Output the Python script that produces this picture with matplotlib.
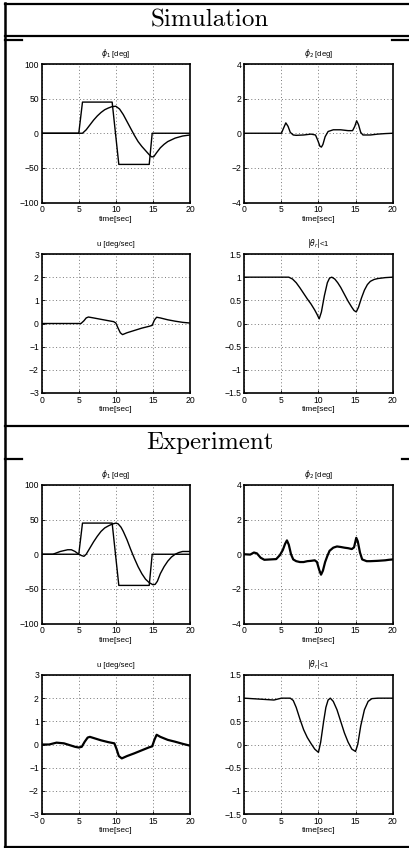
import matplotlib
matplotlib.use("Agg")
import matplotlib.pyplot as plt
from matplotlib.lines import Line2D

# reference step signal for phi_1 (same in both experiments)
ref_t = [0, 5.0, 5.5, 9.5, 10.4, 14.5, 14.9, 20]
ref_phi1 = [0, 0, 45, 45, -45, -45, 0, 0]

# Simulation
sim_phi1_t = [0, 5.5, 6.0, 6.5, 7.0, 7.5, 8.0, 8.5, 9.0, 9.5, 10.0, 10.5, 11.0, 11.5, 12.0,
              12.5, 13.0, 13.5, 14.0, 14.5, 14.8, 15.1, 15.5, 16.0, 16.5, 17.0, 18.0, 19.0, 20.0]
sim_phi1 = [0, 0, 5, 12, 19, 25, 30, 34, 36.5, 38.5, 39, 35, 27, 17, 7,
            -3, -12, -19, -25, -31, -34, -34, -28, -21, -16, -12, -7, -4, -2.5]

sim_phi2_t = [0, 5.0, 5.3, 5.6, 5.9, 6.2, 6.6, 7.0, 8.0, 9.0, 9.6, 9.9, 10.2, 10.4, 10.6,
              10.9, 11.3, 12.0, 13.0, 14.0, 14.6, 14.9, 15.15, 15.4, 15.7, 16.0, 17.0, 18.0, 19.0, 20.0]
sim_phi2 = [0, 0, 0.3, 0.6, 0.4, 0.05, -0.1, -0.12, -0.1, -0.05, -0.1, -0.4, -0.75, -0.8, -0.65,
            -0.2, 0.1, 0.2, 0.2, 0.15, 0.15, 0.4, 0.72, 0.5, 0.05, -0.1, -0.1, -0.05, -0.02, 0]

sim_u_t = [0, 5.3, 5.7, 6.0, 6.3, 7.0, 8.0, 9.0, 9.7, 10.0, 10.3, 10.6, 10.9, 11.5, 12.5,
           13.5, 14.5, 14.9, 15.2, 15.5, 16.0, 17.0, 18.0, 19.0, 20.0]
sim_u = [0, 0, 0.12, 0.24, 0.28, 0.24, 0.18, 0.12, 0.08, 0.02, -0.2, -0.4, -0.48, -0.4, -0.3,
         -0.2, -0.12, -0.08, 0.15, 0.27, 0.24, 0.16, 0.1, 0.05, 0.02]

sim_th_t = [0, 6.0, 6.5, 7.0, 7.5, 8.0, 8.5, 9.0, 9.5, 9.8, 10.1, 10.4, 10.8, 11.2, 11.5, 11.8,
            12.2, 12.6, 13.0, 13.5, 14.0, 14.5, 14.8, 15.1, 15.4, 15.8, 16.2, 16.6, 17.0, 17.5,
            18.0, 19.0, 20.0]
sim_th = [1, 1, 0.96, 0.88, 0.77, 0.65, 0.53, 0.42, 0.29, 0.2, 0.1, 0.25, 0.6, 0.88, 0.98, 1.0,
          0.96, 0.88, 0.78, 0.63, 0.48, 0.35, 0.28, 0.25, 0.35, 0.55, 0.72, 0.84, 0.91, 0.95,
          0.97, 0.99, 1.0]

# Experiment
exp_phi1_t = [0, 1.5, 2.5, 3.5, 4.0, 4.5, 5.0, 5.4, 5.7, 6.0, 6.5, 7.0, 7.5, 8.0, 8.5, 9.0, 9.5,
              10.0, 10.3, 10.7, 11.0, 11.5, 12.0, 12.5, 13.0, 13.5, 14.0, 14.5, 15.0, 15.3, 15.6,
              16.0, 16.5, 17.0, 17.5, 18.0, 18.5, 19.0, 20.0]
exp_phi1 = [0, 0, 4, 6.5, 6.5, 4, 0, -2, -3, 0, 9, 18, 26, 33, 38, 41, 43.5,
            45, 44, 39, 33, 21, 7, -6, -18, -28, -36, -41, -44, -43.5, -39,
            -28, -18, -10, -4, 0, 2.5, 4, 4]

exp_phi2_t = [0, 0.8, 1.3, 1.7, 2.2, 2.7, 3.5, 4.3, 4.8, 5.2, 5.5, 5.75, 6.0, 6.3, 6.6, 7.0,
              7.5, 8.0, 8.5, 9.0, 9.5, 9.8, 10.1, 10.35, 10.6, 10.9, 11.2, 11.5, 12.0, 12.5,
              13.0, 13.5, 14.0, 14.5, 14.8, 15.1, 15.3, 15.6, 15.9, 16.5, 17.0, 18.0, 19.0,
              19.5, 20.0]
exp_phi2 = [0, -0.02, 0.1, 0.05, -0.2, -0.32, -0.3, -0.28, -0.05, 0.25, 0.6, 0.8, 0.55, 0.0,
            -0.3, -0.4, -0.45, -0.45, -0.4, -0.38, -0.35, -0.45, -0.9, -1.18, -0.95, -0.45,
            -0.1, 0.2, 0.38, 0.45, 0.42, 0.38, 0.35, 0.3, 0.4, 0.95, 0.75, 0.1, -0.3, -0.4,
            -0.4, -0.38, -0.35, -0.32, -0.3]

exp_u_t = [0, 1.0, 2.0, 3.0, 4.0, 4.5, 5.0, 5.4, 5.8, 6.2, 6.5, 7.0, 8.0, 9.0, 9.8, 10.1, 10.4,
           10.8, 11.5, 12.5, 13.5, 14.5, 14.9, 15.2, 15.5, 16.0, 17.0, 18.0, 19.0, 20.0]
exp_u = [0, 0, 0.08, 0.05, -0.05, -0.1, -0.13, -0.1, 0.12, 0.3, 0.33, 0.28, 0.18, 0.1, 0.05,
         -0.2, -0.5, -0.6, -0.5, -0.38, -0.25, -0.12, -0.08, 0.2, 0.42, 0.33, 0.2, 0.12, 0.03,
         -0.05]

exp_th_t = [0, 2.0, 4.0, 5.0, 6.2, 6.6, 7.0, 7.5, 8.0, 8.5, 9.0, 9.5, 10.0, 10.3, 10.7, 11.0,
            11.3, 11.6, 12.0, 12.5, 13.0, 13.5, 14.0, 14.5, 15.0, 15.3, 15.7, 16.2, 16.7, 17.2,
            18.0, 20.0]
exp_th = [1, 0.98, 0.96, 1.0, 1.0, 0.95, 0.8, 0.55, 0.32, 0.15, 0.02, -0.1, -0.17, 0.05, 0.5,
          0.8, 0.96, 1.0, 0.93, 0.75, 0.5, 0.25, 0.05, -0.1, -0.15, 0.0, 0.4, 0.75, 0.93, 0.99,
          1.0, 1.0]

x_ticks = [0, 5, 10, 15, 20]
phi1_ticks = [-100, -50, 0, 50, 100]
phi2_ticks = [-4, -2, 0, 2, 4]
u_ticks = [-3, -2, -1, 0, 1, 2, 3]
th_ticks = [-1.5, -1, -0.5, 0, 0.5, 1, 1.5]
th_labels = ["\u22121.5", "\u22121", "\u22120.5", "0", "0.5", "1", "1.5"]

plt.rcParams['font.family'] = ['Liberation Sans', 'DejaVu Sans']
plt.rcParams['mathtext.fontset'] = 'dejavusans'

W, H = 410, 848
fig = plt.figure(figsize=(W / 100, H / 100), dpi=100)


def px_axes(left, top, width, height):
    return fig.add_axes([left / W, 1 - (top + height) / H, width / W, height / H])


def setup(ax, yticks, title, ylabels=None):
    ax.set_xlim(0, 20)
    ax.set_ylim(yticks[0], yticks[-1])
    ax.set_xticks(x_ticks)
    ax.set_yticks(yticks)
    if ylabels is not None:
        ax.set_yticklabels(ylabels)
    ax.grid(True, linestyle=(0, (1, 2.5)), color='#777777', linewidth=0.7)
    ax.tick_params(direction='in', length=2, labelsize=6.2, pad=2, width=0.6)
    for s in ax.spines.values():
        s.set_linewidth(1.2)
    ax.set_title(title, fontsize=5.5, pad=6)
    ax.set_xlabel("time[sec]", fontsize=6, labelpad=1)


def panel(top, data, lw):
    (p1t, p1), (p2t, p2), (ut, u), (tt, th) = data
    ax = px_axes(41.7, top, 148.3, 138.5)
    ax.plot(ref_t, ref_phi1, color='black', lw=1.0)
    ax.plot(p1t, p1, color='black', lw=1.0)
    setup(ax, phi1_ticks, r'$\phi_1$ [deg]')

    ax = px_axes(244.3, top, 148.3, 138.5)
    ax.plot(p2t, p2, color='black', lw=lw)
    setup(ax, phi2_ticks, r'$\phi_2$ [deg]')

    ax = px_axes(41.7, top + 190, 148.3, 139)
    ax.plot(ut, u, color='black', lw=lw)
    setup(ax, u_ticks, 'u [deg/sec]')

    ax = px_axes(244.3, top + 190, 148.3, 139)
    ax.plot(tt, th, color='black', lw=1.0)
    setup(ax, th_ticks, r'$|\theta_r|$<1', th_labels)


panel(64, [(sim_phi1_t, sim_phi1), (sim_phi2_t, sim_phi2), (sim_u_t, sim_u), (sim_th_t, sim_th)], 1.0)
panel(485, [(exp_phi1_t, exp_phi1), (exp_phi2_t, exp_phi2), (exp_u_t, exp_u), (exp_th_t, exp_th)], 1.6)

# section headings
fig.text(210 / W, 1 - 20 / H, "Simulation", fontfamily='cmr10', fontsize=18,
         ha='center', va='center')
fig.text(210 / W, 1 - 443 / H, "Experiment", fontfamily='cmr10', fontsize=18,
         ha='center', va='center')


# table frame lines
def hline(y, x0, x1, lw=1.6):
    fig.add_artist(Line2D([x0 / W, x1 / W], [1 - y / H, 1 - y / H], color='black', lw=lw))


fig.add_artist(Line2D([5.5 / W, 5.5 / W], [1 - 3 / H, 1 - 847 / H], color='black', lw=1.8))
hline(4, 5, 410)
hline(36, 5, 410)
hline(39.5, 5, 22)
hline(39.5, 392, 410)
hline(426, 5, 410)
hline(459, 5, 22)
hline(459, 402, 410)
hline(846.5, 5, 410)

fig.savefig("out.png", dpi=100)
